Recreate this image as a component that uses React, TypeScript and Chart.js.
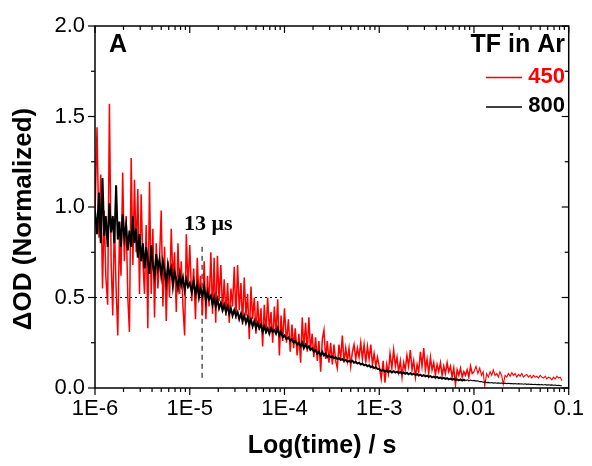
import { useEffect, useRef } from "react";
import { Chart, registerables } from "chart.js";

Chart.register(...registerables);

// Sampling times in microseconds
const timeUs = [
  1.0, 1.05, 1.1, 1.15, 1.2, 1.25, 1.3, 1.36, 1.42, 1.48, 1.54, 1.6, 1.67, 1.74, 1.81, 1.88, 1.96, 2.04, 2.13, 2.22, 2.31, 2.41, 2.51, 2.61, 2.72, 2.83, 2.95, 3.07, 3.2, 3.33, 3.47, 3.61, 3.76, 3.92, 4.08, 4.25, 4.43, 4.61, 4.8, 5.0, 5.21, 5.42, 5.65, 5.88, 6.12, 6.38, 6.64, 6.92, 7.21, 7.51, 7.82, 8.14, 8.48, 8.83, 9.2, 9.58,
  10.0, 10.5, 11.0, 11.5, 12.0, 12.5, 13.0, 13.6, 14.2, 14.8, 15.4, 16.0, 16.7, 17.4, 18.1, 18.8, 19.6, 20.4, 21.3, 22.2, 23.1, 24.1, 25.1, 26.1, 27.2, 28.3, 29.5, 30.7, 32.0, 33.3, 34.7, 36.1, 37.6, 39.2, 40.8, 42.5, 44.3, 46.1, 48.0, 50.0, 52.1, 54.2, 56.5, 58.8, 61.2, 63.8, 66.4, 69.2, 72.1, 75.1, 78.2, 81.4, 84.8, 88.3, 92.0, 95.8,
  100, 105, 110, 115, 120, 125, 130, 136, 142, 148, 154, 160, 167, 174, 181, 188, 196, 204, 213, 222, 231, 241, 251, 261, 272, 283, 295, 307, 320, 333, 347, 361, 376, 392, 408, 425, 443, 461, 480, 500, 521, 542, 565, 588, 612, 638, 664, 692, 721, 751, 782, 814, 848, 883, 920, 958,
  1000, 1050, 1100, 1150, 1200, 1250, 1300, 1360, 1420, 1480, 1540, 1600, 1670, 1740, 1810, 1880, 1960, 2040, 2130, 2220, 2310, 2410, 2510, 2610, 2720, 2830, 2950, 3070, 3200, 3330, 3470, 3610, 3760, 3920, 4080, 4250, 4430, 4610, 4800, 5000, 5210, 5420, 5650, 5880, 6120, 6380, 6640, 6920, 7210, 7510, 7820, 8140, 8480, 8830, 9200, 9580,
  10000, 10500, 11000, 11500, 12000, 12500, 13000, 13600, 14200, 14800, 15400, 16000, 16700, 17400, 18100, 18800, 19600, 20400, 21300, 22200, 23100, 24100, 25100, 26100, 27200, 28300, 29500, 30700, 32000, 33300, 34700, 36100, 37600, 39200, 40800, 42500, 44300, 46100, 48000, 50000, 52100, 54200, 56500, 58800, 61200, 63800, 66400, 69200, 72100, 75100, 78200, 81400, 84800,
];

// Normalized ΔOD, TF in Ar, 450 nm (red)
const od450 = [
  0.95, 1.44, 0.83, 1.18, 0.55, 0.98, 0.62, 0.46, 1.57, 0.7, 0.4, 0.92, 0.55, 0.29, 0.85, 0.62, 1.19, 0.7, 0.95, 0.5, 0.31, 1.27, 0.68, 1.15, 0.75, 1.1, 0.52, 1.07, 0.7, 0.52, 0.9, 0.33, 1.14, 0.52, 0.88, 0.39, 0.8, 0.55, 0.72, 0.98, 0.45, 0.78, 0.37, 0.7, 0.5, 0.88, 0.6, 0.75, 0.42, 0.8, 0.52, 0.7, 0.45, 0.29, 0.85, 0.55,
  0.79, 0.48, 0.66, 0.38, 0.72, 0.5, 0.62, 0.4, 0.7, 0.38, 0.62, 0.45, 0.75, 0.41, 0.72, 0.36, 0.73, 0.48, 0.68, 0.42, 0.6, 0.4, 0.58, 0.36, 0.55, 0.45, 0.67, 0.38, 0.68, 0.43, 0.58, 0.35, 0.61, 0.4, 0.52, 0.27, 0.56, 0.38, 0.5, 0.3, 0.48, 0.32, 0.44, 0.23, 0.46, 0.3, 0.5, 0.32, 0.42, 0.25, 0.45, 0.3, 0.49, 0.18, 0.4, 0.26,
  0.44, 0.25, 0.38, 0.2, 0.35, 0.22, 0.33, 0.18, 0.3, 0.14, 0.39, 0.22, 0.36, 0.2, 0.39, 0.21, 0.3, 0.17, 0.28, 0.15, 0.26, 0.09, 0.27, 0.32, 0.16, 0.26, 0.14, 0.25, 0.13, 0.24, 0.15, 0.11, 0.24, 0.16, 0.29, 0.14, 0.22, 0.15, 0.22, 0.12, 0.2, 0.24, 0.16, 0.22, 0.17, 0.25, 0.16, 0.24, 0.14, 0.23, 0.16, 0.24, 0.13, 0.19, 0.12, 0.17,
  0.12, 0.05, 0.15, 0.03, 0.13, 0.08, 0.19, 0.11, 0.21, 0.12, 0.17, 0.09, 0.15, 0.06, 0.14, 0.1, 0.18, 0.12, 0.21, 0.1, 0.15, 0.06, 0.13, 0.09, 0.2, 0.12, 0.22, 0.1, 0.16, 0.08, 0.17, 0.1, 0.14, 0.07, 0.13, 0.09, 0.14, 0.07, 0.12, 0.08, 0.14, 0.09, 0.12, 0.06, 0.11, 0.02, 0.1, 0.07, 0.11, 0.06, 0.09, 0.07, 0.1, 0.06, 0.12, 0.08,
  0.09, 0.12, 0.08, 0.11, 0.07, 0.09, 0.01, 0.08, 0.06, 0.09, 0.07, 0.1, 0.07, 0.08, 0.06, 0.09, 0.07, 0.02, 0.07, 0.06, 0.08, 0.065, 0.085, 0.07, 0.08, 0.06, 0.075, 0.065, 0.08, 0.06, 0.07, 0.075, 0.06, 0.07, 0.055, 0.07, 0.06, 0.065, 0.055, 0.07, 0.06, 0.055, 0.065, 0.05, 0.06, 0.055, 0.045, 0.06, 0.05, 0.065, 0.055, 0.06, 0.04,
];

// Normalized ΔOD, TF in Ar, 800 nm (black)
const od800 = [
  0.98, 0.85, 1.08, 0.8, 1.16, 0.84, 0.95, 0.78, 1.02, 0.86, 0.95, 0.8, 1.12, 0.82, 0.92, 0.78, 0.96, 0.83, 0.9, 0.76, 0.87, 0.78, 0.95, 0.8, 0.88, 0.72, 0.85, 0.7, 0.8, 0.66, 0.78, 0.7, 0.63, 0.79, 0.68, 0.62, 0.74, 0.66, 0.71, 0.62, 0.7, 0.65, 0.58, 0.68, 0.62, 0.66, 0.56, 0.64, 0.6, 0.55, 0.63, 0.57, 0.61, 0.54, 0.6, 0.56,
  0.58, 0.53, 0.59, 0.52, 0.57, 0.5, 0.55, 0.51, 0.56, 0.48, 0.53, 0.49, 0.51, 0.46, 0.5, 0.45, 0.49, 0.44, 0.47, 0.43, 0.46, 0.42, 0.45, 0.41, 0.44, 0.4, 0.43, 0.4, 0.42, 0.38, 0.41, 0.37, 0.4, 0.36, 0.39, 0.35, 0.38, 0.34, 0.37, 0.33, 0.36, 0.33, 0.35, 0.31, 0.34, 0.31, 0.33, 0.3, 0.33, 0.31, 0.32, 0.3, 0.33, 0.29, 0.31, 0.28,
  0.29, 0.27, 0.28, 0.26, 0.27, 0.25, 0.26, 0.24, 0.25, 0.23, 0.25, 0.22, 0.24, 0.22, 0.23, 0.21, 0.22, 0.2, 0.21, 0.19, 0.2, 0.18, 0.2, 0.18, 0.19, 0.17, 0.18, 0.17, 0.175, 0.165, 0.17, 0.16, 0.165, 0.155, 0.16, 0.15, 0.155, 0.145, 0.15, 0.145, 0.15, 0.14, 0.145, 0.135, 0.14, 0.13, 0.135, 0.125, 0.13, 0.12, 0.125, 0.115, 0.12, 0.11, 0.115, 0.105,
  0.105, 0.095, 0.1, 0.09, 0.098, 0.088, 0.094, 0.086, 0.093, 0.085, 0.09, 0.083, 0.088, 0.08, 0.086, 0.079, 0.084, 0.076, 0.082, 0.074, 0.079, 0.072, 0.076, 0.069, 0.074, 0.066, 0.071, 0.064, 0.068, 0.062, 0.066, 0.059, 0.063, 0.057, 0.061, 0.055, 0.058, 0.052, 0.056, 0.05, 0.054, 0.048, 0.052, 0.046, 0.05, 0.044, 0.048, 0.042, 0.047, 0.041, 0.046, 0.04, 0.045, 0.039, 0.044, 0.04,
  0.042, 0.038, 0.04, 0.035, 0.036, 0.032, 0.033, 0.03, 0.031, 0.028, 0.03, 0.027, 0.029, 0.026, 0.028, 0.026, 0.027, 0.025, 0.027, 0.024, 0.026, 0.024, 0.025, 0.023, 0.025, 0.022, 0.024, 0.022, 0.023, 0.021, 0.023, 0.02, 0.022, 0.02, 0.021, 0.019, 0.021, 0.018, 0.02, 0.018, 0.019, 0.017, 0.019, 0.016, 0.018, 0.016, 0.017, 0.015, 0.016, 0.014, 0.015, 0.013, 0.012,
];

const xTickValues = [1e-6, 1e-5, 1e-4, 1e-3, 1e-2, 1e-1];
const xTickLabels = ["1E-6", "1E-5", "1E-4", "1E-3", "0.01", "0.1"];
const yTickValues = [0, 0.5, 1.0, 1.5, 2.0];
const yTickLabels = ["0.0", "0.5", "1.0", "1.5", "2.0"];
const yMinorValues = [0.25, 0.75, 1.25, 1.75];
const lifetimeS = 1.35e-5; // "13 μs" marker
const halfLevel = 0.5;
const halfLevelEnd = 1e-4;
const markerTop = 0.78;
const markerBottom = 0.04;
const thinFrom800 = 8e-3;
const thinFrom450 = 1e-2;

const SANS = "'Liberation Sans', Arial, Helvetica, sans-serif";
const SERIF = "'Liberation Serif', 'Times New Roman', serif";

const decorPlugin = {
  id: "decor",
  beforeDatasetsDraw(chart: any) {
    const { ctx, chartArea: a, scales } = chart;
    const x = scales.x;
    const y = scales.y;
    ctx.save();
    ctx.strokeStyle = "#000";
    ctx.lineWidth = 1;
    ctx.setLineDash([2, 3]);
    const yh = y.getPixelForValue(halfLevel);
    ctx.beginPath();
    ctx.moveTo(a.left, yh);
    ctx.lineTo(x.getPixelForValue(halfLevelEnd), yh);
    ctx.stroke();
    ctx.setLineDash([5, 4]);
    const xv = x.getPixelForValue(lifetimeS);
    ctx.beginPath();
    ctx.moveTo(xv, y.getPixelForValue(markerTop));
    ctx.lineTo(xv, y.getPixelForValue(markerBottom));
    ctx.stroke();
    ctx.restore();
  },
  afterDraw(chart: any) {
    const { ctx, chartArea: a, scales } = chart;
    const x = scales.x;
    const y = scales.y;
    ctx.save();
    ctx.strokeStyle = "#000";
    ctx.lineWidth = 1.5;
    ctx.setLineDash([]);
    ctx.strokeRect(a.left, a.top, a.right - a.left, a.bottom - a.top);

    ctx.lineWidth = 1.2;
    const major = 7;
    const minor = 4;
    const line = (x1: number, y1: number, x2: number, y2: number) => {
      ctx.beginPath();
      ctx.moveTo(x1, y1);
      ctx.lineTo(x2, y2);
      ctx.stroke();
    };
    xTickValues.forEach((v, i) => {
      const px = x.getPixelForValue(v);
      line(px, a.bottom, px, a.bottom + major);
      line(px, a.top, px, a.top + major);
      if (i < xTickValues.length - 1) {
        for (let k = 2; k <= 9; k++) {
          const pm = x.getPixelForValue(v * k);
          line(pm, a.bottom, pm, a.bottom + minor);
          line(pm, a.top, pm, a.top + minor);
        }
      }
    });
    yTickValues.forEach((v) => {
      const py = y.getPixelForValue(v);
      line(a.left - major, py, a.left, py);
      line(a.right - major, py, a.right, py);
    });
    yMinorValues.forEach((v) => {
      const py = y.getPixelForValue(v);
      line(a.left - minor, py, a.left, py);
      line(a.right - minor, py, a.right, py);
    });

    ctx.fillStyle = "#000";
    ctx.textBaseline = "middle";
    ctx.font = `bold 25px ${SANS}`;
    ctx.textAlign = "left";
    ctx.fillText("A", 109, 45);
    ctx.textAlign = "right";
    ctx.fillText("TF in Ar", 565, 45);
    ctx.font = `bold 22px ${SANS}`;
    ctx.fillStyle = "#ff0000";
    ctx.fillText("450", 565, 77);
    ctx.fillStyle = "#000";
    ctx.fillText("800", 565, 106);
    ctx.lineWidth = 1.3;
    ctx.strokeStyle = "#ff0000";
    line(486, 77.5, 522, 77.5);
    ctx.strokeStyle = "#000";
    line(486, 107, 522, 107);

    ctx.font = `bold 22px ${SERIF}`;
    ctx.textAlign = "left";
    ctx.fillText("13 μs", 184, 224);

    ctx.font = `bold 25px ${SANS}`;
    ctx.textAlign = "center";
    ctx.fillText("Log(time) / s", 322, 446);
    ctx.font = `bold 26px ${SANS}`;
    ctx.translate(24, 219);
    ctx.rotate(-Math.PI / 2);
    ctx.fillText("ΔOD (Normalized)", 0, 0);
    ctx.restore();
  },
};

export default function App() {
  const ref = useRef<HTMLCanvasElement | null>(null);
  useEffect(() => {
    document.body.style.margin = "0";
    const canvas = ref.current;
    if (!canvas) return;
    const pts = (arr: number[]) => arr.map((v, i) => ({ x: timeUs[i] * 1e-6, y: v }));
    const chart = new Chart(canvas, {
      type: "line",
      data: {
        datasets: [
          {
            label: "800",
            data: pts(od800),
            borderColor: "#000000",
            borderWidth: 2,
            pointRadius: 0,
            tension: 0,
            order: 0,
            segment: {
              borderWidth: (c: any) => (c.p0.parsed.x < thinFrom800 ? 2 : 1.1),
            },
          },
          {
            label: "450",
            data: pts(od450),
            borderColor: "#ff0000",
            borderWidth: 1.5,
            pointRadius: 0,
            tension: 0,
            order: 1,
            segment: {
              borderWidth: (c: any) => (c.p0.parsed.x < thinFrom450 ? 1.5 : 1.1),
            },
          },
        ],
      },
      options: {
        animation: false,
        responsive: false,
        devicePixelRatio: 1,
        parsing: false,
        normalized: true,
        layout: { padding: { top: 26, right: 15, left: 0, bottom: 0 } },
        plugins: { legend: { display: false }, tooltip: { enabled: false } },
        scales: {
          x: {
            type: "logarithmic",
            min: 1e-6,
            max: 0.1,
            grid: { display: false, drawTicks: false },
            border: { display: false },
            afterBuildTicks: (s: any) => {
              s.ticks = xTickValues.map((v) => ({ value: v }));
            },
            afterFit: (s: any) => {
              s.height = 78;
            },
            ticks: {
              autoSkip: false,
              maxRotation: 0,
              padding: 8,
              color: "#000",
              font: { family: SANS, size: 22 },
              callback: (_v: any, i: number) => xTickLabels[i],
            },
          },
          y: {
            type: "linear",
            min: 0,
            max: 2,
            grid: { display: false, drawTicks: false },
            border: { display: false },
            afterBuildTicks: (s: any) => {
              s.ticks = yTickValues.map((v) => ({ value: v }));
            },
            afterFit: (s: any) => {
              s.width = 95;
            },
            ticks: {
              padding: 10,
              color: "#000",
              font: { family: SANS, size: 22 },
              callback: (_v: any, i: number) => yTickLabels[i],
            },
          },
        },
      } as any,
      plugins: [decorPlugin],
    });
    return () => chart.destroy();
  }, []);
  return (
    <div style={{ width: 592, height: 466, background: "#fff" }}>
      <canvas ref={ref} width={592} height={466} style={{ display: "block" }} />
    </div>
  );
}
